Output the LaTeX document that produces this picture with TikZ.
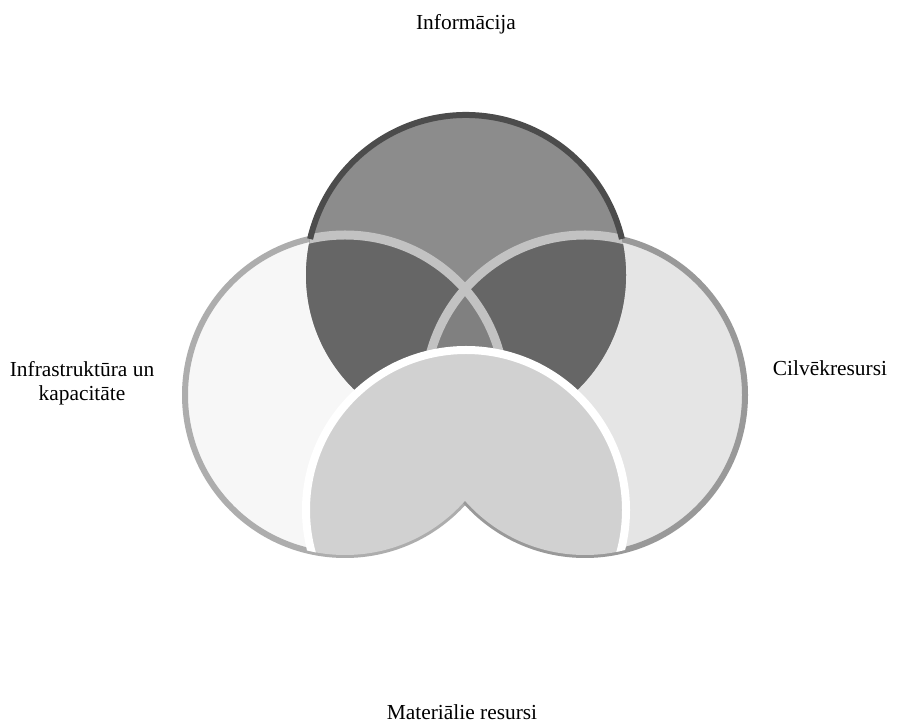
\documentclass[tikz,border=0pt]{standalone}
\usepackage{fontspec}
\setmainfont{Liberation Serif}
\usetikzlibrary{positioning}

\definecolor{infofill}{gray}{0.55}
\definecolor{inforim}{gray}{0.3}
\definecolor{pairfill}{gray}{0.4}
\definecolor{midfill}{gray}{0.5}
\definecolor{bandgray}{gray}{0.76}
\definecolor{infrafill}{gray}{0.97}
\definecolor{infrarim}{gray}{0.68}
\definecolor{cilvfill}{gray}{0.9}
\definecolor{cilvrim}{gray}{0.6}
\definecolor{matfill}{gray}{0.82}

\begin{document}
\begin{tikzpicture}[x=0.5pt,y=0.5pt,
    every node/.style={align=center,inner sep=0pt,font=\fontsize{10.7}{12}\selectfont},
    band/.style={bandgray,line width=4.5pt},
    rim/.style={line width=3pt}]
  \useasboundingbox[fill=white] (0,0) rectangle (904,722);
  \coordinate (info) at (466,447);
  \coordinate (infra) at (345,327);
  \coordinate (cilv) at (585,327);
  \coordinate (mat) at (466,212);

  % side circles
  \fill[infrafill] (infra) circle (160);
  \draw[rim,infrarim] (infra) circle (160);
  \fill[cilvfill] (cilv) circle (160);
  \draw[rim,cilvrim] (cilv) circle (160);

  % top circle and its overlaps
  \fill[infofill] (info) circle (160);
  \begin{scope}
    \clip (info) circle (160);
    \fill[pairfill] (infra) circle (160) (cilv) circle (160);
    \begin{scope}
      \clip (infra) circle (160);
      \fill[midfill] (cilv) circle (160);
    \end{scope}
    \draw[band] (infra) circle (160);
    \draw[band] (cilv) circle (160);
  \end{scope}
  \draw[rim,inforim] ([shift={(167:160)}]info) arc[start angle=167,end angle=13,radius=160];

  % bottom circle, only inside the side circles
  \begin{scope}
    \clip (infra) circle (160) (cilv) circle (160);
    \fill[matfill] (mat) circle (160);
    \draw[white,line width=4pt] (mat) circle (160);
  \end{scope}

  \node[anchor=base] (infolbl) at (466,692) {Informācija};
  \node (infralbl) at (82,339) {Infrastruktūra un\\kapacitāte};
  \node[anchor=base] (cilvlbl) at (830,346) {Cilvēkresursi};
  \node[anchor=base] (matlbl) at (462,3) {Materiālie resursi};
\end{tikzpicture}
\end{document}
